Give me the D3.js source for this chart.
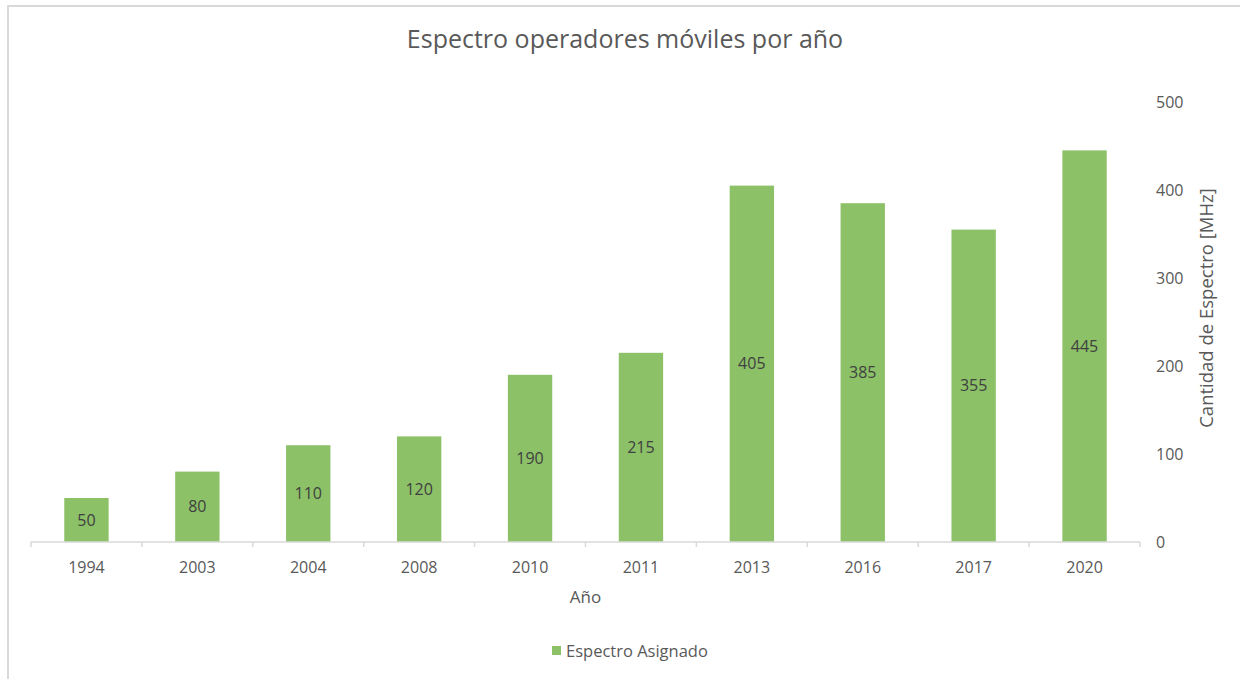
<!DOCTYPE html>
<html>
<head>
    <meta charset="utf-8">
    <script src="https://d3js.org/d3.v7.min.js"></script>
    <style>
        body { margin: 0; background: #fff; }
        text { font-family: "Open Sans", "Noto Sans", sans-serif; }
    </style>
</head>
<body>
    <svg width="1240" height="679"></svg>
    <script>
        // chart data
        var years = ["1994", "2003", "2004", "2008", "2010", "2011", "2013", "2016", "2017", "2020"];
        var spectrum = [50, 80, 110, 120, 190, 215, 405, 385, 355, 445];
        var yTicks = [0, 100, 200, 300, 400, 500];

        var svg = d3.select("svg");
        var gray = "#595959";

        // chart border
        svg.append("rect")
            .attr("x", 8).attr("y", 6)
            .attr("width", 1250).attr("height", 700)
            .attr("fill", "none")
            .attr("stroke", "#d9d9d9")
            .attr("stroke-width", 2);

        var plotLeft = 31, plotRight = 1140, plotTop = 102, plotBottom = 542;

        var x = d3.scaleBand().domain(years).range([plotLeft, plotRight]).padding(0);
        var y = d3.scaleLinear().domain([0, 500]).range([plotBottom, plotTop]);

        // title
        svg.append("text")
            .attr("x", 625).attr("y", 48)
            .attr("text-anchor", "middle")
            .attr("font-size", "25px")
            .attr("fill", gray)
            .text("Espectro operadores móviles por año");

        // bars
        var barW = x.bandwidth() * 0.4;
        svg.selectAll(".bar")
            .data(spectrum)
            .enter()
            .append("rect")
            .attr("class", "bar")
            .attr("x", function (d, i) { return x(years[i]) + (x.bandwidth() - barW) / 2; })
            .attr("y", function (d) { return y(d); })
            .attr("width", barW)
            .attr("height", function (d) { return y(0) - y(d); })
            .attr("fill", "#8cc168");

        // bar labels
        svg.selectAll(".lbl")
            .data(spectrum)
            .enter()
            .append("text")
            .attr("class", "lbl")
            .attr("x", function (d, i) { return x(years[i]) + x.bandwidth() / 2; })
            .attr("y", function (d) { return (y(d) + y(0)) / 2; })
            .attr("dy", "0.35em")
            .attr("text-anchor", "middle")
            .attr("font-size", "16px")
            .attr("fill", "#404040")
            .text(function (d) { return d; });

        // x axis line and ticks at band edges
        var xg = svg.append("g");
        xg.append("line")
            .attr("x1", plotLeft).attr("x2", plotRight)
            .attr("y1", plotBottom).attr("y2", plotBottom)
            .attr("stroke", "#d9d9d9").attr("stroke-width", 1.5);
        var edges = years.map(function (d) { return x(d); }).concat([plotRight]);
        xg.selectAll(".tk")
            .data(edges)
            .enter()
            .append("line")
            .attr("x1", function (d) { return d; }).attr("x2", function (d) { return d; })
            .attr("y1", plotBottom).attr("y2", plotBottom + 5)
            .attr("stroke", "#d9d9d9").attr("stroke-width", 1.5);
        xg.selectAll(".xl")
            .data(years)
            .enter()
            .append("text")
            .attr("x", function (d) { return x(d) + x.bandwidth() / 2; })
            .attr("y", 573)
            .attr("text-anchor", "middle")
            .attr("font-size", "16px")
            .attr("fill", gray)
            .text(function (d) { return d; });

        // right y axis labels
        svg.selectAll(".yl")
            .data(yTicks)
            .enter()
            .append("text")
            .attr("x", 1156)
            .attr("y", function (d) { return y(d); })
            .attr("dy", "0.35em")
            .attr("font-size", "16px")
            .attr("fill", gray)
            .text(function (d) { return d; });

        // axis titles
        svg.append("text")
            .attr("x", (plotLeft + plotRight) / 2).attr("y", 603)
            .attr("text-anchor", "middle")
            .attr("font-size", "17px")
            .attr("fill", gray)
            .text("Año");

        svg.append("text")
            .attr("transform", "translate(1213," + ((plotTop + plotBottom) / 2 - 14) + ") rotate(-90)")
            .attr("text-anchor", "middle")
            .attr("font-size", "18.5px")
            .attr("fill", gray)
            .text("Cantidad de Espectro [MHz]");

        // legend
        svg.append("rect")
            .attr("x", 552).attr("y", 646)
            .attr("width", 9).attr("height", 9)
            .attr("fill", "#8cc168");
        svg.append("text")
            .attr("x", 566).attr("y", 657)
            .attr("font-size", "16.5px")
            .attr("fill", gray)
            .text("Espectro Asignado");
    </script>
</body>
</html>
